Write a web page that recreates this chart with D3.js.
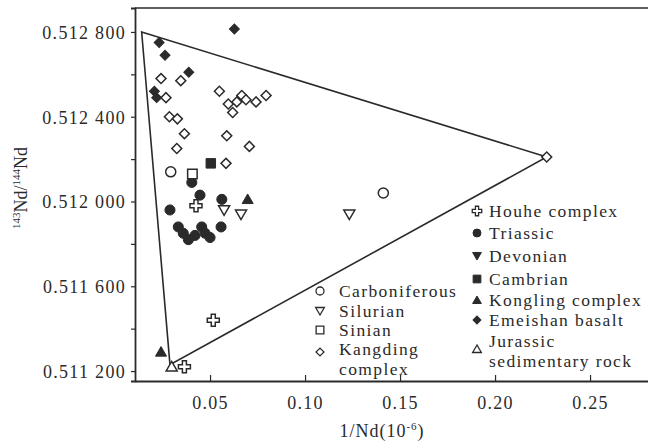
<!DOCTYPE html>
<html>
<head>
<meta charset="utf-8">
<script src="https://cdn.jsdelivr.net/npm/d3@7"></script>
<style>
    body { margin: 0; background: #fff; }
    svg text { font-family: "Liberation Serif", "Times New Roman", serif; fill: #2a2a2a; }
</style>
</head>
<body>
<svg id="chart" width="648" height="442"></svg>
<script>
// 1/Nd (10^-6) vs 143Nd/144Nd, one array per rock unit
var houhe = [[0.0426, 0.51198], [0.0517, 0.51144], [0.0365, 0.51122]];
var triassic = [
    [0.0404, 0.51209], [0.0447, 0.51203], [0.0562, 0.51201], [0.0289, 0.51196],
    [0.0558, 0.51188], [0.0333, 0.51188], [0.0359, 0.51185], [0.0386, 0.51182],
    [0.0421, 0.51184], [0.0456, 0.51188], [0.0474, 0.51185], [0.0500, 0.51183]
];
var devonian = [];
var cambrian = [[0.0504, 0.51218]];
var kongling = [[0.0698, 0.51201], [0.0242, 0.51129]];
var emeishan = [
    [0.0628, 0.512814], [0.0232, 0.51275], [0.0263, 0.51269],
    [0.0388, 0.51261], [0.0207, 0.51252], [0.0219, 0.51249]
];
var jurassic = [[0.0298, 0.51122]];
var carboniferous = [[0.0293, 0.51214], [0.1412, 0.51204]];
var silurian = [[0.0574, 0.51196], [0.0663, 0.51194], [0.1233, 0.51194]];
var sinian = [[0.0407, 0.51213]];
var kangding = [
    [0.0242, 0.51258], [0.0346, 0.51257], [0.0549, 0.51252], [0.0667, 0.51250],
    [0.0596, 0.51246], [0.0641, 0.51247], [0.0689, 0.51248], [0.0742, 0.51247],
    [0.0795, 0.51250], [0.0619, 0.51242], [0.0268, 0.51249], [0.0286, 0.51240],
    [0.0328, 0.51239], [0.0365, 0.51232], [0.0588, 0.51231], [0.0707, 0.51226],
    [0.0325, 0.51225], [0.0584, 0.51218], [0.2272, 0.51221]
];

// mixing triangle corners
var triangle = [[0.0140, 0.51280], [0.2272, 0.51221], [0.0289, 0.51123]];

var xTicks = [0.05, 0.10, 0.15, 0.20, 0.25];
var yTicks = [0.5112, 0.5116, 0.5120, 0.5124, 0.5128];
var yMinorTicks = [0.5114, 0.5118, 0.5122, 0.5126];

var ink = "#2a2a2a";
var svg = d3.select("#chart");
var margin = {left: 135, top: 8, right: 648, bottom: 381};

var x = d3.scaleLinear().domain([0.0105, 0.2805]).range([margin.left, margin.right]);
var y = d3.scaleLinear().domain([0.511153, 0.512913]).range([margin.bottom, margin.top]);

/***
 * Returns a path for the given marker kind, centred on 0,0
 * @param kind
 * @param size
 * @returns {String}
 */
function markerPath(kind, size) {
    if (kind == "circle") return d3.symbol(d3.symbolCircle, size)();
    if (kind == "square") return d3.symbol(d3.symbolSquare, size)();
    if (kind == "diamond") return d3.symbol(d3.symbolSquare, size * 0.62)();
    if (kind == "cross") return d3.symbol(d3.symbolCross, size)();
    return d3.symbol(d3.symbolTriangle, size * 0.66)();  // up / down triangles
}

function markerTransform(kind, px, py) {
    if (kind == "diamond") return "translate(" + px + "," + py + ") rotate(45)";
    if (kind == "down") return "translate(" + px + "," + (py - 1) + ") rotate(180)";
    if (kind == "up") return "translate(" + px + "," + (py + 1) + ")";
    return "translate(" + px + "," + py + ")";
}

var series = [
    {name: "Houhe complex", data: houhe, kind: "cross", filled: false},
    {name: "Triassic", data: triassic, kind: "circle", filled: true},
    {name: "Devonian", data: devonian, kind: "down", filled: true},
    {name: "Cambrian", data: cambrian, kind: "square", filled: true},
    {name: "Kongling complex", data: kongling, kind: "up", filled: true},
    {name: "Emeishan basalt", data: emeishan, kind: "diamond", filled: true},
    {name: "Jurassic", data: jurassic, kind: "up", filled: false},
    {name: "Carboniferous", data: carboniferous, kind: "circle", filled: false},
    {name: "Silurian", data: silurian, kind: "down", filled: false},
    {name: "Sinian", data: sinian, kind: "square", filled: false},
    {name: "Kangding complex", data: kangding, kind: "diamond", filled: false}
];

// frame: top border + left axis + bottom axis
svg.append("line").attr("x1", margin.left).attr("x2", margin.right)
    .attr("y1", margin.top).attr("y2", margin.top)
    .attr("stroke", ink).attr("stroke-width", 1.5);

var yAxis = svg.append("g").attr("transform", "translate(" + margin.left + ",0)")
    .call(d3.axisLeft(y).tickValues(yTicks).tickSize(4).tickPadding(5)
        .tickFormat(function (d) {
            var s = d.toFixed(6);
            return s.slice(0, 5) + " " + s.slice(5);
        }));
svg.append("g").attr("transform", "translate(" + margin.left + ",0)")
    .call(d3.axisLeft(y).tickValues(yMinorTicks).tickSize(4).tickFormat(""))
    .select(".domain").remove();

var xAxis = svg.append("g").attr("transform", "translate(0," + margin.bottom + ")")
    .call(d3.axisBottom(x).tickValues(xTicks).tickSizeInner(-6).tickSizeOuter(0).tickPadding(15)
        .tickFormat(d3.format(".2f")));

svg.selectAll(".domain").attr("stroke", ink).attr("stroke-width", 1.8);
svg.selectAll(".tick line").attr("stroke", ink).attr("stroke-width", 1.2);
svg.selectAll(".tick text")
    .style("font-family", "'Liberation Serif', serif")
    .style("font-size", "18px")
    .style("letter-spacing", "1.3px")
    .attr("fill", ink);
yAxis.selectAll(".tick text").attr("dy", "0.36em");

// triangle
svg.append("path")
    .attr("d", d3.line().x(function (d) { return x(d[0]); }).y(function (d) { return y(d[1]); })(triangle) + "Z")
    .attr("fill", "none").attr("stroke", ink).attr("stroke-width", 1.6);

// data points
series.forEach(function (s) {
    svg.append("g").selectAll("path")
        .data(s.data)
        .enter()
        .append("path")
        .attr("d", markerPath(s.kind, s.kind == "square" ? 90 : 80))
        .attr("transform", function (d) { return markerTransform(s.kind, x(d[0]), y(d[1])); })
        .attr("fill", s.filled ? ink : "#fff")
        .attr("stroke", ink)
        .attr("stroke-width", s.filled ? 1 : 1.5);
});

// legend, two columns
var legendLeft = [
    {s: series[7], y: 291, lines: ["Carboniferous"]},
    {s: series[8], y: 311, lines: ["Silurian"]},
    {s: series[9], y: 330, lines: ["Sinian"]},
    {s: series[10], y: 349, lines: ["Kangding", "complex"], my: 352}
];
var legendRight = [
    {s: series[0], y: 211, lines: ["Houhe complex"]},
    {s: series[1], y: 233, lines: ["Triassic"]},
    {s: series[2], y: 256, lines: ["Devonian"]},
    {s: series[3], y: 279, lines: ["Cambrian"]},
    {s: series[4], y: 300, lines: ["Kongling complex"]},
    {s: series[5], y: 320, lines: ["Emeishan basalt"]},
    {s: series[6], y: 341, lines: ["Jurassic", "sedimentary rock"], my: 349}
];

function drawLegend(items, markX, textX) {
    items.forEach(function (it) {
        var s = it.s;
        svg.append("path")
            .attr("d", markerPath(s.kind, s.kind == "square" ? 60 : 50))
            .attr("transform", markerTransform(s.kind, markX, it.my || it.y))
            .attr("fill", s.filled ? ink : "#fff")
            .attr("stroke", ink)
            .attr("stroke-width", s.filled ? 1 : 1.3);
        // one text per line so wrapped lines stay apart
        it.lines.forEach(function (line, i) {
            svg.append("text")
                .attr("x", textX).attr("y", it.y + i * 20)
                .attr("dy", "0.35em")
                .style("font-size", "17.5px")
                .style("letter-spacing", "1.4px")
                .text(line);
        });
    });
}
drawLegend(legendLeft, 320, 339);
drawLegend(legendRight, 477, 489);

// axis titles
var xt = svg.append("text")
    .attr("x", 382).attr("y", 437)
    .attr("text-anchor", "middle")
    .style("font-size", "18px")
    .style("letter-spacing", "1px");
xt.append("tspan").text("1/Nd(10");
xt.append("tspan").attr("dy", -7).style("font-size", "11px").text("-6");
xt.append("tspan").attr("dy", 7).text(")");

var yt = svg.append("text")
    .attr("transform", "translate(27,188) rotate(-90)")
    .attr("text-anchor", "middle")
    .style("font-size", "18px");
yt.append("tspan").attr("dy", -7).style("font-size", "11px").text("143");
yt.append("tspan").attr("dy", 7).text("Nd/");
yt.append("tspan").attr("dy", -7).style("font-size", "11px").text("144");
yt.append("tspan").attr("dy", 7).text("Nd");
</script>
</body>
</html>
